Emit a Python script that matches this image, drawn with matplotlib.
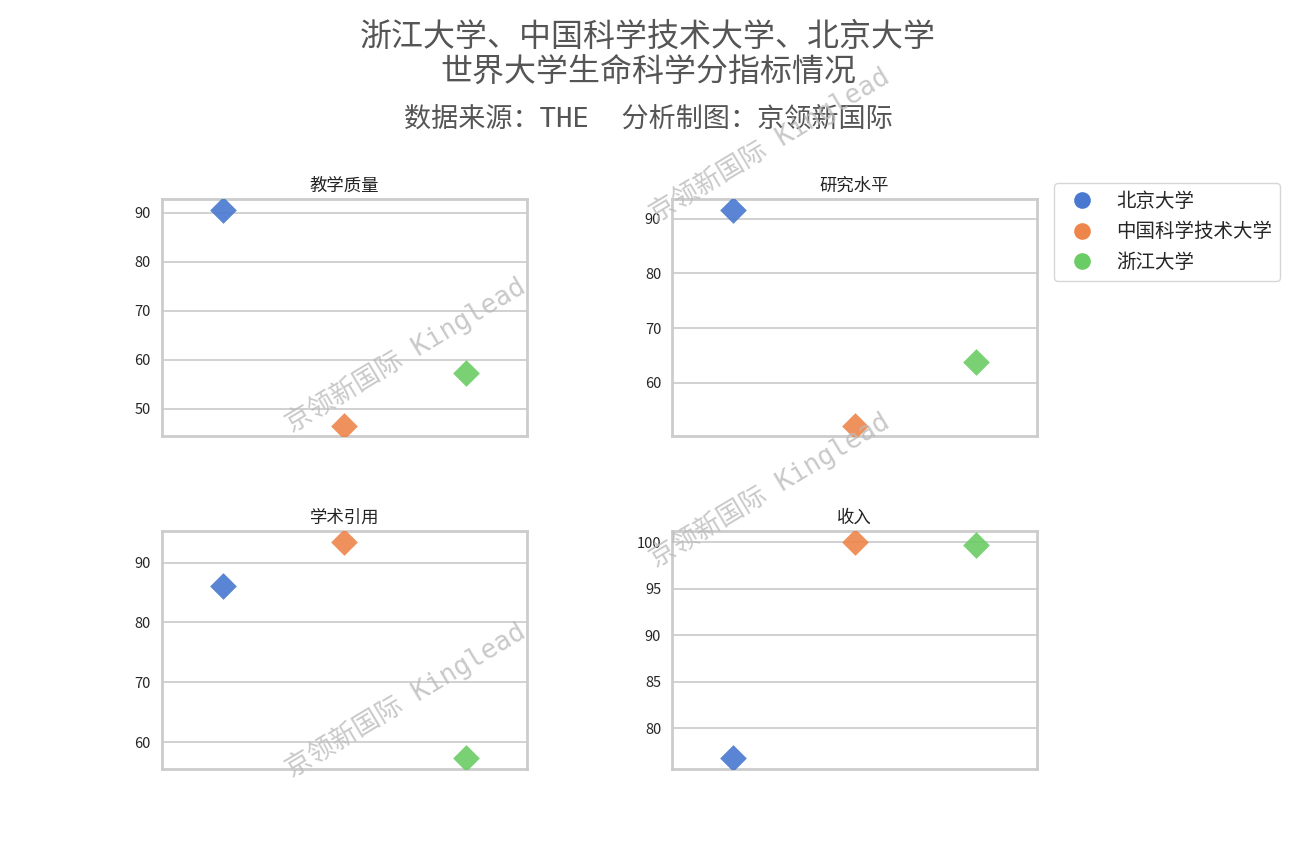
import matplotlib
matplotlib.use("Agg")
import matplotlib.pyplot as plt
from matplotlib.lines import Line2D
from matplotlib.ticker import MultipleLocator
import seaborn as sns

sns.set_theme(style="whitegrid")
plt.rcParams['font.family'] = ['Noto Sans CJK SC', 'DejaVu Sans']
plt.rcParams['axes.unicode_minus'] = False

universities = ['北京大学', '中国科学技术大学', '浙江大学']
metrics = ['教学质量', '研究水平', '学术引用', '收入']
teaching = [90.7, 46.6, 57.4]
research = [91.7, 52.2, 63.8]
citations = [86.0, 93.4, 57.3]
income = [76.8, 100.0, 99.7]
values = [teaching, research, citations, income]
tick_steps = [10, 10, 10, 5]

colors = sns.color_palette('muted', 3)

fig, axes = plt.subplots(2, 2, figsize=(12.96, 8.64), dpi=100)
fig.subplots_adjust(left=0.125, right=0.8, bottom=0.11, top=0.77, wspace=0.4, hspace=0.4)

for ax, title, vals, step in zip(axes.flat, metrics, values, tick_steps):
    for i, (u, v) in enumerate(zip(universities, vals)):
        ax.scatter([i], [v], marker='D', s=185, color=colors[i], alpha=0.9,
                   linewidth=0, zorder=3)
    ax.set_xlim(-0.5, len(universities) - 0.5)
    ax.set_xticks([])
    ax.margins(y=0.05)
    ax.yaxis.set_major_locator(MultipleLocator(step))
    ax.grid(axis='x', visible=False)
    ax.grid(axis='y', color='#cccccc', linewidth=1.25)
    ax.set_title(title, fontsize=12.5, color='#222222')
    ax.tick_params(axis='y', labelsize=10.5, colors='#262626', pad=2)
    for sp in ax.spines.values():
        sp.set_color('#cccccc')
        sp.set_linewidth(2)

handles = [Line2D([], [], marker='o', linestyle='', markersize=12, color=colors[i],
                  markeredgewidth=0) for i in range(3)]
fig.legend(handles, universities, loc='upper left', bbox_to_anchor=(0.806, 0.7996),
           fontsize=14, frameon=True, edgecolor='#cccccc')

fig.text(0.5, 0.976, '浙江大学、中国科学技术大学、北京大学\n世界大学生命科学分指标情况',
         ha='center', va='top', fontsize=23, color='#555555', linespacing=1.12)
fig.text(0.5, 0.861, '数据来源：THE  分析制图：京领新国际', ha='center', va='center',
         fontsize=19.5, color='#555555',
         family=['DejaVu Sans Mono', 'Noto Sans CJK SC'])

wm_pos = [(0.594, 0.832), (0.3125, 0.589), (0.594, 0.433), (0.3125, 0.19)]
for x, y in wm_pos:
    fig.text(x, y, '京领新国际 Kinglead', ha='center', va='center', rotation=31,
             rotation_mode='anchor', fontsize=19, color='#bbbbbb', alpha=0.8,
             family=['DejaVu Sans Mono', 'Noto Sans CJK SC'], zorder=10)

fig.savefig('out.png', dpi=100)
